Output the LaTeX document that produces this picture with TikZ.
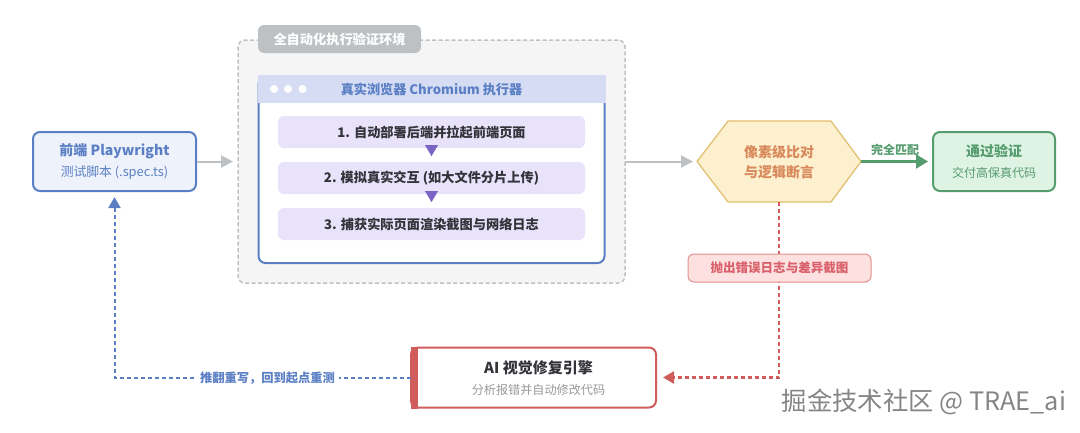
\documentclass[tikz,border=0pt]{standalone}
\usepackage{fontspec}
\usepackage{xcolor}
\usetikzlibrary{arrows.meta}
\setmainfont{Noto Sans CJK SC}
\def\px{0.75pt}
\definecolor{planblue}{HTML}{5B7FC4}
\definecolor{planfill}{HTML}{EEF2FB}
\definecolor{headfill}{HTML}{D5DCF3}
\definecolor{steelgray}{HTML}{BEC1C4}
\definecolor{envfill}{HTML}{F5F5F6}
\definecolor{stepfill}{HTML}{E8E2FA}
\definecolor{stepmark}{HTML}{7A65C4}
\definecolor{stepink}{HTML}{33343A}
\definecolor{hexfill}{HTML}{FDF0CF}
\definecolor{hexline}{HTML}{E0BD6C}
\definecolor{hexink}{HTML}{D98A5C}
\definecolor{passgreen}{HTML}{559C6E}
\definecolor{passfill}{HTML}{DFF3E4}
\definecolor{failred}{HTML}{D05C5C}
\definecolor{errfill}{HTML}{FDE0E0}
\definecolor{errline}{HTML}{E39090}
\definecolor{errink}{HTML}{D9606A}
\definecolor{subgray}{HTML}{999999}
\definecolor{markgray}{HTML}{858585}
\newcommand{\fsize}[1]{\fontsize{#1}{15.75}\selectfont}

\begin{document}
\begin{tikzpicture}[x=\px, y=-\px]
    % Define styles
    \tikzstyle{plain}=[inner sep=0pt, outer sep=0pt, align=center]
    \tikzstyle{card}=[plain, draw, line width=2*\px, rounded corners=7*\px, font=\fsize{10.5}]
    \tikzstyle{stepbox}=[plain, fill=stepfill, rounded corners=6*\px, minimum width=307*\px, minimum height=32*\px, text=stepink, font=\fsize{9.9}\bfseries]
    \tikzstyle{flow}=[line width=2*\px, steelgray, -{Triangle[length=12*\px, width=12*\px]}]
    \tikzstyle{backline}=[line width=2*\px, dash pattern=on 4*\px off 3*\px, -{Triangle[length=11*\px, width=12*\px]}]
    \tikzstyle{stepmarker}=[stepmark, line width=0.2*\px, -{Triangle[length=11*\px, width=13*\px]}]

    \useasboundingbox (0,0) rectangle (1080,432);

    % Start card
    \node[card, draw=planblue, fill=planfill, text=planblue, minimum width=163*\px, minimum height=59*\px] (play) at (114.5,161.5) {{\bfseries 前端 Playwright}\\{\fsize{9.6}测试脚本 (.spec.ts)}};

    % Verification environment
    \node[plain, draw=steelgray, fill=envfill, line width=1.5*\px, dash pattern=on 4*\px off 2.5*\px, rounded corners=7*\px, minimum width=387*\px, minimum height=243*\px] (env) at (431.5,161.5) {};
    \node[plain, fill=steelgray, rounded corners=6*\px, minimum width=163*\px, minimum height=28*\px, text=white, font=\fsize{9.9}\bfseries] (envtag) at (339.5,39) {全自动化执行验证环境};

    % Browser window
    \node[plain, draw=planblue, fill=white, line width=2*\px, rounded corners=7*\px, minimum width=346*\px, minimum height=186*\px] (browser) at (431.5,170) {};
    \node[plain, fill=headfill, minimum width=348*\px, minimum height=28*\px, text=planblue, font=\fsize{9.85}\bfseries] (browserhead) at (431.5,89) {真实浏览器 Chromium 执行器};
    \foreach \dotx/\dotname in {274/dota, 288/dotb, 302.5/dotc}
        \node[plain, circle, fill=white, minimum size=8*\px] (\dotname) at (\dotx,89) {};

    % Steps
    \node[stepbox] (step1) at (431.5,132) {1. 自动部署后端并拉起前端页面};
    \node[stepbox] (step2) at (431.5,178) {2. 模拟真实交互 (如大文件分片上传)};
    \node[stepbox] (step3) at (431.5,224) {3. 捕获实际页面渲染截图与网络日志};
    \draw[stepmarker, shorten <=-3*\px, shorten >=6*\px] (step1) -- (step2);
    \draw[stepmarker, shorten <=-3*\px, shorten >=6*\px] (step2) -- (step3);

    % Comparison hexagon
    \draw[fill=hexfill, draw=hexline, line width=1.2*\px] (697,161.5) -- (728,121) -- (831,121) -- (861,161.5) -- (831,202) -- (728,202) -- cycle;
    \node[plain, minimum width=164*\px, minimum height=81*\px] (match) at (779,161.5) {};
    \node[plain, text=hexink, font=\fsize{10.5}\bfseries] (matchtext) at (779,162.5) {像素级比对\\[-0.75pt]与逻辑断言};

    % Pass card
    \node[card, draw=passgreen, fill=passfill, text=passgreen, minimum width=122*\px, minimum height=59*\px] (pass) at (994,161.5) {{\bfseries 通过验证}\\{\fsize{9}交付高保真代码}};

    % Repair card
    \node[card, draw=failred, fill=white, minimum width=245*\px, minimum height=60*\px] (fix) at (533.5,377.5) {};
    \node[plain, fill=failred, minimum width=7*\px, minimum height=62*\px] (fixbar) at (414.5,377.5) {};
    \node[plain, font=\fsize{10.5}] (fixtext) at (538.5,378.5) {{\fsize{11.25}\bfseries\color{stepink}AI 视觉修复引擎}\\{\fsize{9.1}\color{subgray}分析报错并自动修改代码}};

    % Arrows
    \draw[flow, shorten <=1*\px, shorten >=5*\px] (play) -- (env);
    \draw[flow, shorten >=4*\px] (env) -- (match);
    \draw[line width=2.5*\px, passgreen, -{Triangle[length=12*\px, width=14*\px]}, shorten >=5*\px] (match) -- node[above=6*\px, xshift=-2*\px, plain, font=\fsize{9}\bfseries] (matchlabel) {完全匹配} (pass);
    \draw[backline, failred, line width=2.5*\px, shorten >=7*\px] (match) |- (fix);
    \draw[backline, planblue, shorten >=6*\px] (fixbar) -| (play);

    % Labels on the dashed lines
    \node[plain, draw=errline, fill=errfill, line width=1*\px, rounded corners=6*\px, minimum width=183*\px, minimum height=28*\px, text=errink, font=\fsize{9.4}\bfseries] (errlabel) at (779.5,268) {抛出错误日志与差异截图};
    \node[plain, fill=white, minimum width=142*\px, minimum height=18*\px, text=planblue, font=\fsize{9.2}\bfseries] (backlabel) at (267.5,378) {推翻重写，回到起点重测};

    % Watermark
    \node[plain, text=markgray, font=\fsize{19}] (mark) at (924,402) {掘金技术社区 @ TRAE\_ai};
\end{tikzpicture}
\end{document}
